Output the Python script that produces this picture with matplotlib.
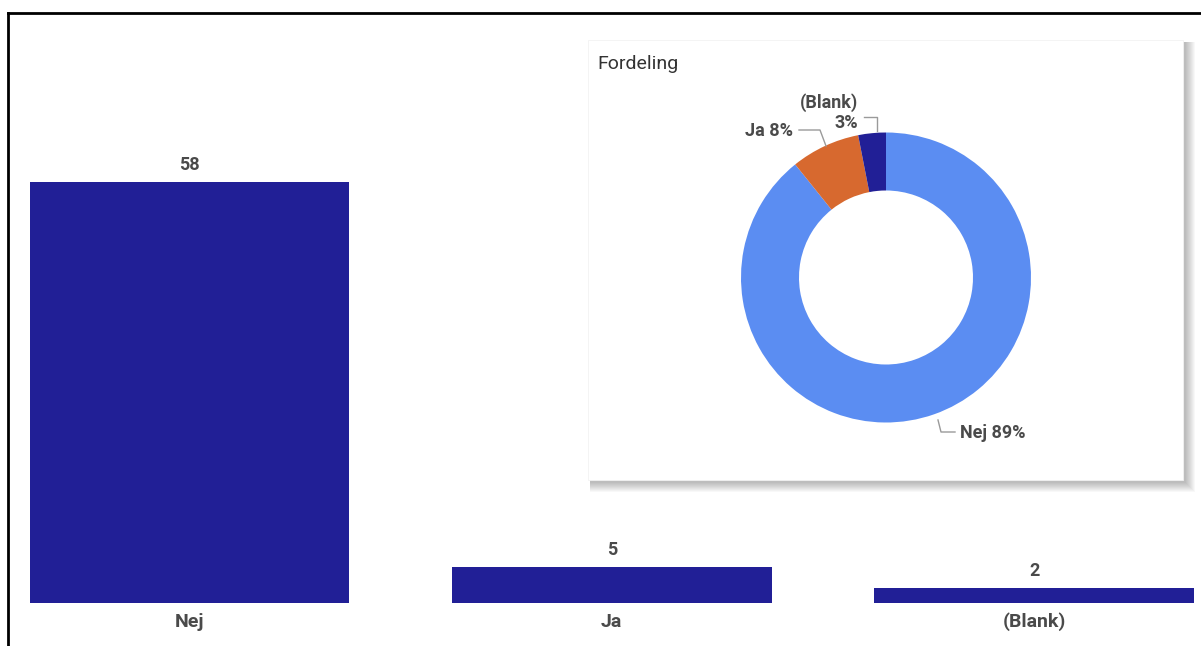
import matplotlib
matplotlib.use("Agg")
import matplotlib.pyplot as plt
from matplotlib.patches import Rectangle
from matplotlib.lines import Line2D

categories = ["Nej", "Ja", "(Blank)"]
counts = [58, 5, 2]
pie_colors = ["#5B8DF2", "#D7692F", "#211F96"]
bar_color = "#211F96"
text_gray = "#4A4A4A"

plt.rcParams["font.family"] = ["Roboto", "DejaVu Sans"]

W, H = 1201, 646
fig = plt.figure(figsize=(W / 100, H / 100), dpi=100)
fig.patch.set_facecolor("white")

# bar chart
ax = fig.add_axes([20 / W, 43 / H, (W - 20) / W, (H - 43 - 100) / H])
x = list(range(len(categories)))
bars = ax.bar(x, counts, width=0.757, color=bar_color)
ax.set_xlim(-(189.5 - 20) / 422.5, 2 + (W - 1034) / 422.5)
ax.set_ylim(0, (H - 43 - 100) / 7.26)
for b, v in zip(bars, counts):
    ax.text(b.get_x() + b.get_width() / 2, v + 1.1, str(v), ha="center", va="bottom",
            fontsize=13, fontweight="bold", color=text_gray)
for xi, c in zip(x, categories):
    ax.text(xi, -19 / 7.26, c, ha="center", va="center", fontsize=14,
            fontweight="bold", color=text_gray, clip_on=False)
ax.set_xticks([])
ax.set_yticks([])
for s in ax.spines.values():
    s.set_visible(False)

# card with soft shadow (pixel coords)
card = fig.add_axes([0, 0, 1, 1], zorder=2)
card.set_xlim(0, W)
card.set_ylim(H, 0)
card.axis("off")
card.patch.set_alpha(0)
for off in range(10, 0, -1):
    card.add_patch(Rectangle((588 + 2, 40 + 2), 595 + off, 440 + off,
                             facecolor="black", alpha=0.028, edgecolor="none"))
card.add_patch(Rectangle((588, 40), 595, 440, facecolor="white", edgecolor="#F2F2F2", lw=0.6))
card.text(597, 64, "Fordeling", fontsize=14, color="#333333", va="center", ha="left")

# donut
cx, cy, r = 886, 277.5, 145
pax = fig.add_axes([(cx - r) / W, (H - cy - r) / H, 2 * r / W, 2 * r / H], zorder=3)
pax.pie(counts, colors=pie_colors, startangle=90, counterclock=False,
        wedgeprops=dict(width=0.4, edgecolor="none"), radius=1)
pax.set_xlim(-1, 1)
pax.set_ylim(-1, 1)
pax.set_aspect("equal")


def d(px, py):
    return (px - cx) / r, (cy - py) / r


total = sum(counts)
pct = [round(c / total * 100) for c in counts]
lab_kw = dict(fontsize=13, fontweight="bold", color=text_gray, clip_on=False)
line_kw = dict(color="#9A9A9A", lw=1, clip_on=False)

# Nej
pts = [d(938, 420), d(941, 432), d(955, 432)]
pax.plot([p[0] for p in pts], [p[1] for p in pts], **line_kw)
pax.text(*d(960, 433), f"{categories[0]} {pct[0]}%", ha="left", va="center", **lab_kw)
# Ja
pts = [d(799, 130), d(820, 130), d(826, 146)]
pax.plot([p[0] for p in pts], [p[1] for p in pts], **line_kw)
pax.text(*d(793, 131), f"{categories[1]} {pct[1]}%", ha="right", va="center", **lab_kw)
# Blank
pts = [d(864, 117), d(877, 117), d(877, 131)]
pax.plot([p[0] for p in pts], [p[1] for p in pts], **line_kw)
pax.text(*d(858, 113), f"{categories[2]}\n{pct[2]}%", ha="right", va="center",
         multialignment="right", linespacing=1.15, **lab_kw)

# outer frame lines
fig.add_artist(Line2D([8 / W, 8 / W], [0, 1 - 13 / H], color="black", lw=2, transform=fig.transFigure))
fig.add_artist(Line2D([8 / W, 1], [1 - 13 / H, 1 - 13 / H], color="black", lw=2, transform=fig.transFigure))

fig.savefig("out.png", dpi=100)
